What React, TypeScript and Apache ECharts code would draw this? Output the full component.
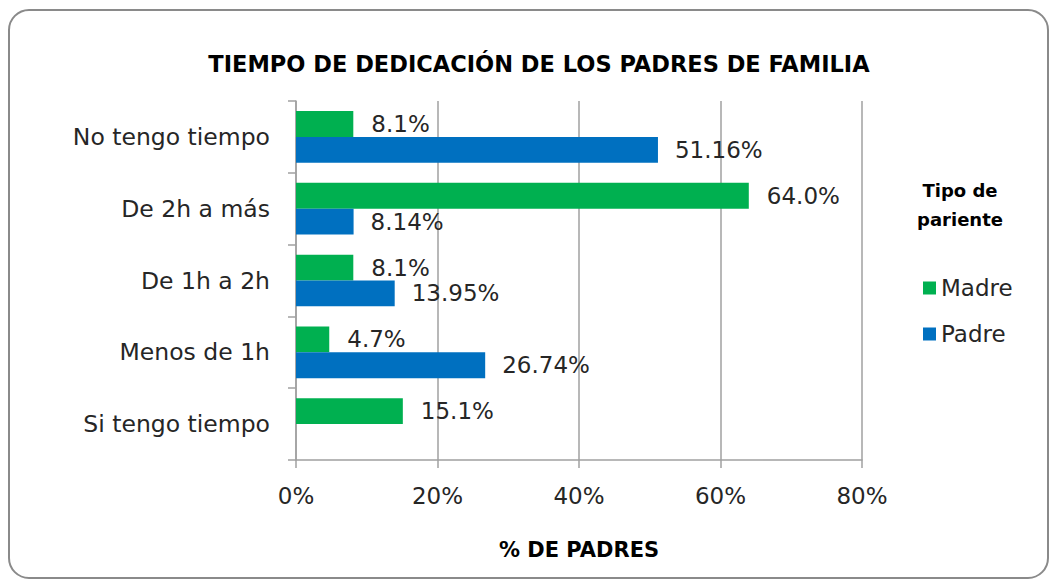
import React, { useEffect, useRef } from "react";
import * as echarts from "echarts";

const categories = ["No tengo tiempo", "De 2h a más", "De 1h a 2h", "Menos de 1h", "Si tengo tiempo"];
const madre = [8.1, 64.0, 8.1, 4.7, 15.1];
const padre: (number | null)[] = [51.16, 8.14, 13.95, 26.74, null];
const xTicks = [0, 20, 40, 60, 80];

const FONT = "DejaVu Sans";
const TXT = "#262626";
const GRID = "#a0a0a0";

export default function App() {
  const ref = useRef<HTMLDivElement>(null);
  useEffect(() => {
    if (!ref.current) return;
    const chart = echarts.init(ref.current, undefined, { renderer: "svg" });
    chart.setOption({
      animation: false,
      backgroundColor: "#ffffff",
      textStyle: { fontFamily: FONT },
      title: {
        text: "TIEMPO DE DEDICACIÓN DE LOS PADRES DE FAMILIA",
        left: 534,
        textAlign: "center",
        top: 47,
        textStyle: { fontFamily: FONT, fontWeight: "bold", fontSize: 22.5, color: "#000" },
      },
      legend: {
        orient: "vertical",
        left: 918,
        top: 271,
        itemWidth: 13,
        itemHeight: 13,
        itemGap: 22,
        icon: "rect",
        data: ["Madre", "Padre"],
        textStyle: { fontFamily: FONT, fontSize: 23, color: TXT, lineHeight: 24 },
      },
      grid: { left: 296, right: 188, top: 101, bottom: 119 },
      xAxis: {
        type: "value",
        min: xTicks[0],
        max: xTicks[xTicks.length - 1],
        interval: 20,
        name: "% DE PADRES",
        nameLocation: "middle",
        nameGap: 79,
        nameTextStyle: { fontFamily: FONT, fontWeight: "bold", fontSize: 21, color: "#000" },
        axisLine: { show: true, lineStyle: { color: GRID, width: 1.5 } },
        axisTick: { show: true, length: 8, lineStyle: { color: GRID, width: 1.5 } },
        splitLine: { show: true, lineStyle: { color: GRID, width: 1.5 } },
        axisLabel: {
          formatter: "{value}%",
          margin: 24,
          fontFamily: FONT,
          fontSize: 23,
          color: TXT,
        },
      },
      yAxis: {
        type: "category",
        data: categories,
        inverse: true,
        axisLine: { show: true, lineStyle: { color: GRID, width: 1.5 } },
        axisTick: { show: true, length: 8, lineStyle: { color: GRID, width: 1.5 } },
        axisLabel: { margin: 26, fontFamily: FONT, fontSize: 23.5, color: TXT },
      },
      series: [
        {
          name: "Madre",
          type: "bar",
          data: madre,
          barCategoryGap: "28%",
          barGap: "0%",
          itemStyle: { color: "#00b050" },
          label: {
            show: true,
            position: "right",
            distance: 18,
            fontFamily: FONT,
            fontSize: 23,
            color: TXT,
            formatter: (p: any) => `${Number(p.value).toFixed(1)}%`,
          },
        },
        {
          name: "Padre",
          type: "bar",
          data: padre.map((v) => (v === null ? "-" : v)),
          barCategoryGap: "28%",
          barGap: "0%",
          itemStyle: { color: "#0070c0" },
          label: {
            show: true,
            position: "right",
            distance: 17,
            fontFamily: FONT,
            fontSize: 23,
            color: TXT,
            formatter: (p: any) => `${Number(p.value).toFixed(2)}%`,
          },
        },
      ],
      graphic: [
        {
          type: "rect",
          shape: { x: 9, y: 10, width: 1039, height: 568, r: 20 },
          style: { fill: "none", stroke: "#8a8a8a", lineWidth: 2 },
          silent: true,
        },
        {
          type: "text",
          x: 960,
          y: 176,
          style: {
            text: "Tipo de\npariente",
            fontFamily: FONT,
            fontWeight: "bold",
            fontSize: 18,
            lineHeight: 29,
            fill: "#000",
            align: "center",
          },
        },
      ],
    });
    return () => chart.dispose();
  }, []);
  return (
    <div
      ref={ref}
      style={{ position: "fixed", left: 0, top: 0, width: 1050, height: 579 }}
    />
  );
}
